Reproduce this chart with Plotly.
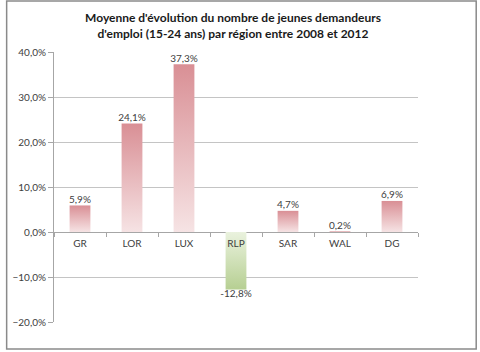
import plotly.graph_objects as go

categories = ["GR", "LOR", "LUX", "RLP", "SAR", "WAL", "DG"]
values = [0.059, 0.241, 0.373, -0.128, 0.047, 0.002, 0.069]
y_ticks = [-0.2, -0.1, 0.0, 0.1, 0.2, 0.3, 0.4]

FONT = "Lato"
W, H = 480, 352
L, R, T, B = 49, 62, 52, 30
ymin, ymax = -0.2, 0.4
bw = 0.4

pos_scale = [[0, "#f6e3e4"], [1, "#d98f95"]]
neg_scale = [[0, "#b6cf92"], [1, "#eaf2de"]]

fig = go.Figure()
for i, v in enumerate(values):
    xs = [i - bw / 2, i - bw / 2, i + bw / 2, i + bw / 2, i - bw / 2]
    ys = [0, v, v, 0, 0]
    fig.add_trace(go.Scatter(
        x=xs, y=ys, mode="lines", fill="toself",
        line=dict(width=0, color="rgba(0,0,0,0)"),
        fillgradient=dict(type="vertical", colorscale=pos_scale if v >= 0 else neg_scale),
        hoverinfo="skip", showlegend=False,
    ))

labels = [f"{v*100:.1f}%".replace(".", ",") for v in values]
fig.add_trace(go.Scatter(
    x=list(range(len(categories))), y=values, mode="text", text=labels,
    textposition=["top center" if v >= 0 else "bottom center" for v in values],
    textfont=dict(family=FONT, size=10, color="#404040"),
    showlegend=False, hoverinfo="skip",
))
# category labels axis (at zero line)
fig.add_trace(go.Scatter(x=[0, 6], y=[0, 0], xaxis="x2", mode="markers",
                         marker=dict(opacity=0), showlegend=False, hoverinfo="skip"))

zero_pos = (0 - ymin) / (ymax - ymin)

fig.update_layout(
    width=W, height=H,
    margin=dict(l=L, r=R, t=T, b=B),
    paper_bgcolor="white", plot_bgcolor="white",
    separators=",.",
    title=dict(
        text="Moyenne d'évolution du nombre de jeunes demandeurs<br>d'emploi (15-24 ans) par région entre 2008 et 2012",
        x=233 / W, xanchor="center", y=1 - 22 / H, yanchor="middle",
        font=dict(family=FONT, size=12, color="#1a1a1a", weight="bold"),
    ),
    xaxis=dict(
        range=[-0.5, len(categories) - 0.5],
        tickvals=[k - 0.5 for k in range(len(categories) + 1)],
        ticktext=[""] * (len(categories) + 1),
        ticks="outside", ticklen=4, tickcolor="#a6a6a6",
        showline=False, showgrid=False, zeroline=False,
        anchor="free", position=zero_pos,
    ),
    xaxis2=dict(
        range=[-0.5, len(categories) - 0.5], overlaying="x",
        tickvals=list(range(len(categories))), ticktext=categories,
        ticks="", showline=False, showgrid=False, zeroline=False,
        anchor="free", position=zero_pos, side="bottom",
        tickfont=dict(family=FONT, size=10, color="#404040"),
        ticklabelstandoff=4,
    ),
    yaxis=dict(
        range=[ymin, ymax], tickvals=y_ticks, tickformat=".1%",
        showgrid=True, gridcolor="#c4c4c4", gridwidth=1,
        zeroline=True, zerolinecolor="#a6a6a6", zerolinewidth=1,
        showline=True, linecolor="#a6a6a6", linewidth=1,
        ticks="outside", ticklen=5, tickcolor="#a6a6a6",
        tickfont=dict(family=FONT, size=10, color="#404040"),
    ),
    shapes=[dict(
        type="rect", xref="paper", yref="paper",
        x0=(1 - L) / (W - L - R), x1=(477 - L) / (W - L - R),
        y0=(H - B - 349) / (H - T - B), y1=(H - B - 1) / (H - T - B),
        line=dict(color="#8a8a8a", width=1.5), layer="below",
    )],
)

fig.write_html("out.html")
